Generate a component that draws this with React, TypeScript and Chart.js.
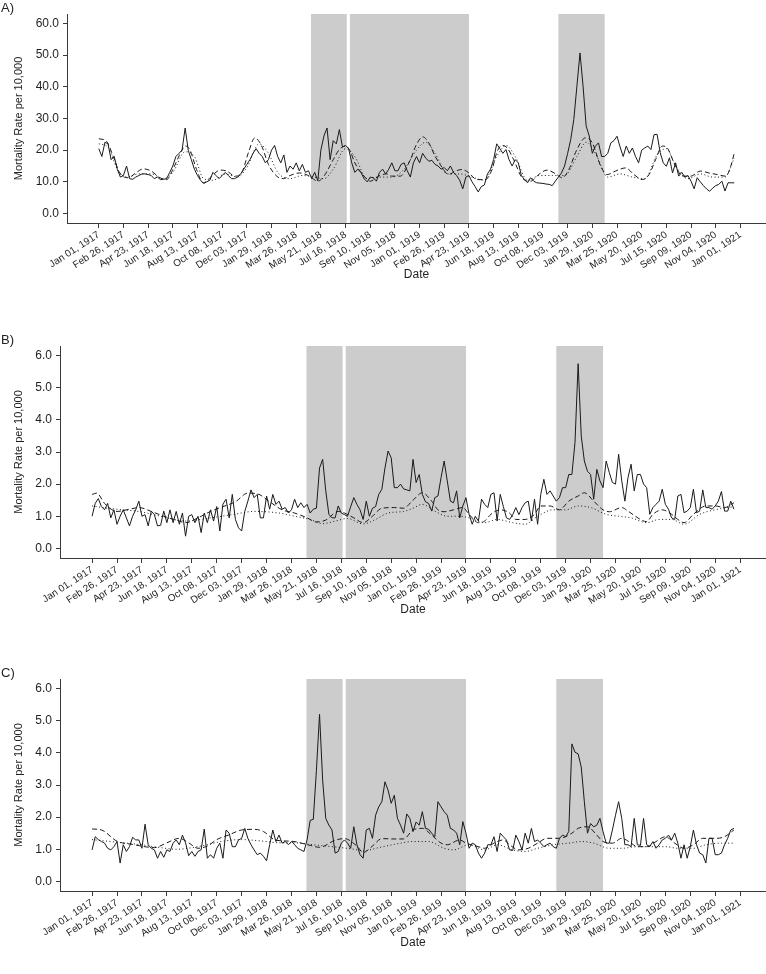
import React, { useEffect, useRef } from "react";
import { Chart, registerables } from "chart.js";

Chart.register(...registerables);

const FONT = "'Liberation Sans', Arial, Helvetica, sans-serif";
const TEXT = "#1f1f1f";
const AXIS = "#3a3a3a";

// x tick labels, one every 8 weeks (week index 0, 8, 16, ...)
const dateLabels = [
  "Jan 01, 1917", "Feb 26, 1917", "Apr 23, 1917", "Jun 18, 1917", "Aug 13, 1917",
  "Oct 08, 1917", "Dec 03, 1917", "Jan 29, 1918", "Mar 26, 1918", "May 21, 1918",
  "Jul 16, 1918", "Sep 10, 1918", "Nov 05, 1918", "Jan 01, 1919", "Feb 26, 1919",
  "Apr 23, 1919", "Jun 18, 1919", "Aug 13, 1919", "Oct 08, 1919", "Dec 03, 1919",
  "Jan 29, 1920", "Mar 25, 1920", "May 20, 1920", "Jul 15, 1920", "Sep 09, 1920",
  "Nov 04, 1920", "Jan 01, 1921",
];
const tickWeekStep = 8;

// shaded pandemic waves, in weeks since Jan 01, 1917
const shadeRanges: [number, number][] = [[68.8, 80.4], [81.4, 120], [149, 164]];

const aYTicks = [0, 10, 20, 30, 40, 50, 60];
const bcYTicks = [0, 1, 2, 3, 4, 5, 6];

// Panel A: weekly observed mortality (week 0 .. 206)
const aObserved = [
  20.5, 18, 22.5, 22, 17, 18, 14, 11.5, 12, 15,
  11, 10.8, 11.5, 12, 12.5, 12.5, 12.3, 12, 11, 11.5,
  10.7, 10.8, 11, 13, 15, 18, 19, 20, 27, 20,
  17, 14, 12, 10.5, 9.5, 10, 10.5, 13, 12, 11,
  12, 13, 12, 11, 11, 11.5, 12.5, 14, 15.5, 17,
  19, 20.5, 19, 18, 16, 17, 20, 21.5, 18, 16,
  18.5, 13, 15, 14, 16, 13.5, 15.5, 13, 13.5, 11,
  13, 10.3, 20, 24.5, 27, 17, 23, 22, 26.5, 21,
  21.5, 20.5, 16, 13, 14, 13, 11, 10, 11.5, 11.3,
  10.2, 13, 14, 12.5, 14, 16, 13.5, 13.5, 15.5, 16,
  13.5, 11.5, 16, 18, 16, 19, 17.5, 16.5, 16.8, 15.5,
  15, 14, 14.5, 13.5, 15, 13, 12, 10.5, 7.8, 11.5,
  12, 10, 8.5, 6.8, 8.5, 9, 12.5, 14, 17, 22,
  20.5, 19, 20.2, 17, 15, 17, 16, 12, 10.7, 9.7,
  11.3, 10.2, 9.7, 9.6, 9.5, 9.3, 9.2, 8.8, 10.2, 11.5,
  12.8, 15, 19, 23.4, 29.7, 40.2, 50.7, 40.2, 27.6, 24.5,
  19, 21.3, 22.3, 18, 18, 19, 22.3, 23, 24.4, 21,
  18, 21.3, 19, 20.7, 18, 16, 20, 20.7, 21.3, 20.2,
  24.9, 25, 19.2, 16, 14.9, 17.6, 12.8, 16, 11.8, 13,
  11.5, 12, 10.2, 7.8, 11.3, 10, 8.8, 7.8, 7.0, 8,
  8.8, 9.2, 10.2, 7.1, 9.7, 9.7, 9.7,
];
// [week, value]
const aExpected: [number, number][] = [
  [0, 23.6], [2.5, 22.8], [4.7, 18], [6.8, 12.8], [9.5, 11.3], [12, 12.8], [14.4, 14.1], [17, 13.4],
  [19.8, 11.3], [22, 10.7], [24, 13.9], [26.8, 19.7], [28, 21.3], [29.5, 20.2], [31.7, 13.9], [33.9, 9.7],
  [36.6, 11.8], [39.3, 13.7], [41.5, 13.4], [44.2, 11.8], [46.3, 12.8], [48.5, 19.2], [50.6, 23.9],
  [52.8, 21.3], [55, 15.5], [57.7, 11.8], [59.8, 11], [62, 12], [65, 12.8], [68, 12], [71, 10.2],
  [73, 11.8], [76, 17], [78, 20.2], [80, 21.3], [81.5, 19.7], [83, 16], [86, 11.8], [88, 10.2],
  [90.7, 11.8], [93.4, 12.5], [95, 11.8], [97.7, 11.8], [101, 17], [103, 21.8], [105, 24.2], [107, 22.3],
  [109, 18.1], [111, 15], [113.4, 12.3], [115.6, 13.4], [117.8, 13.9], [120, 12.8], [122.6, 10.7],
  [125.3, 10.7], [127.5, 13.9], [129, 19.2], [130.7, 21.5], [132.4, 20.7], [134.5, 17], [137.2, 11.3],
  [140, 10.2], [142.6, 12.3], [145.3, 13.7], [148, 12.6], [150.2, 11.3], [152.4, 13.9], [155, 20.2],
  [157.8, 23.9], [160, 22.3], [162.7, 15], [164.8, 12.3], [167.5, 13.4], [170.8, 14.4], [173.5, 12.3],
  [176.2, 10.7], [178.4, 12.3], [180.5, 17], [182.7, 21.3], [184.3, 20.7], [186.5, 16], [189.2, 11.8],
  [191.9, 11.8], [195, 13.4], [197.8, 12.8], [200.5, 12.3], [203.3, 11.8], [204.9, 15], [206, 19],
];
const aBaseline: [number, number][] = [
  [0, 22], [3, 21], [6, 14], [9, 11.5], [13, 12.5], [17, 12.5], [21, 11], [24, 13], [28, 19.5], [31, 18],
  [34, 11], [37, 10.5], [41, 12.5], [45, 11.5], [48, 14.5], [52, 22], [55, 19], [58, 13], [62, 11],
  [66, 12], [70, 11.5], [73, 11], [76, 14], [80, 20.5], [83, 18], [87, 11], [91, 11.5], [95, 11.5],
  [99, 14], [103, 20], [106, 22.5], [109, 19], [113, 12.5], [117, 12.5], [121, 11.5], [125, 10.5],
  [129, 18], [132, 21.5], [135, 18], [139, 10.5], [143, 12], [147, 12], [151, 12], [155, 18], [158, 22.5],
  [161, 19], [165, 11.5], [169, 12.5], [173, 11.5], [177, 11], [181, 18.5], [184, 20.5], [187, 15],
  [191, 11], [195, 12.5], [199, 11.5], [203, 11.5], [206, 17.5],
];

// Panel B
const bObserved = [
  1.0, 1.4, 1.55, 1.3, 1.2, 1.4, 0.95, 1.2, 0.75, 1.0,
  1.2, 0.95, 0.7, 1.0, 1.2, 1.47, 1.0, 1.05, 0.7, 1.16,
  1.05, 0.7, 0.72, 1.16, 0.8, 1.2, 0.8, 1.15, 0.75, 1.1,
  0.38, 1.0, 1.05, 0.8, 1.0, 0.49, 1.1, 0.8, 1.2, 0.85,
  1.3, 0.54, 1.38, 1.53, 0.95, 1.68, 0.9, 0.64, 0.54, 1.15,
  1.47, 1.82, 1.58, 1.68, 0.95, 0.95, 1.63, 1.22, 1.68, 1.37,
  1.47, 1.22, 1.27, 1.1, 1.2, 1.53, 1.27, 1.42, 1.27, 1.37,
  1.1, 1.22, 1.25, 2.5, 2.77, 1.79, 1.06, 0.95, 0.95, 1.32,
  1.1, 1.05, 1.0, 1.3, 1.58, 1.37, 1.2, 0.9, 1.47, 1.0,
  1.25, 1.3, 1.68, 1.84, 2.5, 3.03, 2.82, 1.89, 1.89, 2.0,
  1.85, 1.82, 1.79, 2.77, 2.05, 2.3, 1.68, 1.45, 1.4, 1.16,
  1.58, 1.63, 2.2, 2.72, 2.1, 1.47, 1.42, 1.79, 0.95, 1.32,
  1.58, 1.06, 0.75, 1.0, 0.85, 1.53, 1.37, 1.27, 1.68, 1.73,
  0.85, 1.68, 1.3, 0.95, 0.9, 1.05, 1.27, 1.05, 1.27, 1.42,
  1.47, 0.85, 1.53, 0.75, 1.68, 2.15, 1.68, 1.79, 1.63, 1.47,
  1.58, 1.89, 1.89, 2.3, 2.3, 3.3, 5.75, 3.5, 2.72, 2.4,
  2.3, 1.53, 2.46, 2.1, 1.89, 2.72, 2.36, 2.05, 2.0, 2.93,
  2.1, 1.47, 2.2, 2.62, 1.79, 2.3, 2.3, 2.0, 1.89, 1.06,
  1.27, 1.37, 1.47, 1.84, 1.37, 1.22, 0.95, 0.9, 1.63, 1.68,
  1.11, 1.16, 1.27, 1.84, 1.11, 1.16, 1.82, 1.27, 1.27, 1.22,
  1.32, 1.47, 1.77, 1.16, 1.16, 1.47, 1.22,
];
const bExpected: [number, number][] = [
  [0, 1.68], [1.5, 1.72], [4, 1.4], [8, 1.15], [12, 1.22], [15, 1.27], [19, 1.15], [23, 1.0], [27, 0.88],
  [30, 0.8], [34, 0.95], [38, 1.15], [42, 1.3], [46, 1.45], [50, 1.72], [53, 1.7], [57, 1.45], [61, 1.2],
  [65, 1.1], [69, 0.95], [72, 0.82], [75, 0.88], [79, 1.15], [81, 1.1], [84, 0.95], [87, 0.8], [90, 1.0],
  [93, 1.25], [97, 1.27], [100, 1.25], [103, 1.5], [106, 1.73], [109, 1.47], [111, 1.2], [113, 1.14],
  [116, 1.2], [119, 1.27], [121, 1.06], [124, 0.8], [126, 0.85], [128, 1.06], [131, 1.2], [134, 1.1],
  [136, 0.9], [139, 0.9], [142, 1.06], [144, 1.32], [147, 1.32], [150, 1.2], [153, 1.47], [156, 1.63],
  [158, 1.73], [161, 1.47], [164, 1.2], [166, 1.14], [170, 1.27], [172, 1.16], [176, 0.9], [178, 0.83],
  [180, 1.06], [183, 1.2], [186, 1.06], [188, 0.9], [190, 0.8], [193, 1.06], [197, 1.32], [200, 1.32],
  [203, 1.27], [206, 1.42],
];
const bBaseline: [number, number][] = [
  [0, 1.32], [5, 1.25], [10, 1.2], [15, 1.15], [22, 1.0], [30, 0.85], [38, 0.95], [45, 1.05], [52, 1.15],
  [60, 1.1], [65, 1.0], [70, 0.9], [74, 0.77], [78, 0.85], [82, 0.93], [87, 0.76], [91, 0.9], [95, 1.1],
  [100, 1.15], [103, 1.25], [106, 1.37], [110, 1.16], [114, 1.0], [118, 1.0], [121, 0.95], [126, 0.8],
  [130, 0.9], [135, 0.8], [139, 0.75], [143, 1.0], [148, 1.2], [152, 1.2], [156, 1.32], [160, 1.27],
  [165, 1.06], [169, 1.0], [173, 0.95], [178, 0.8], [182, 0.9], [186, 0.9], [190, 0.75], [195, 1.06],
  [200, 1.2], [206, 1.3],
];

// Panel C
const cObserved = [
  0.98, 1.39, 1.3, 1.24, 1.19, 1.03, 0.98, 1.08, 1.24, 0.57,
  1.14, 0.93, 1.08, 1.37, 1.29, 1.29, 1.03, 1.78, 1.14, 1.03,
  0.98, 0.72, 0.93, 0.75, 0.98, 0.93, 1.19, 1.29, 1.14, 1.44,
  1.2, 0.8, 0.93, 0.78, 0.93, 0.98, 1.63, 0.72, 0.83, 0.72,
  1.03, 1.19, 0.72, 1.6, 1.5, 1.08, 1.08, 1.29, 1.34, 1.65,
  1.34, 1.14, 0.98, 0.83, 0.88, 0.78, 0.64, 1.14, 1.6, 1.24,
  1.44, 1.19, 1.24, 1.14, 1.24, 1.14, 1.03, 0.98, 0.93, 1.29,
  1.9, 1.93, 3.46, 5.2, 3.15, 1.96, 1.75, 1.6, 0.88, 0.93,
  1.19, 1.29, 1.19, 1.03, 1.7, 1.14, 0.83, 0.72, 1.6, 1.65,
  1.34, 2.06, 2.32, 2.48, 3.1, 2.84, 2.43, 2.68, 1.96, 1.75,
  1.5, 2.1, 1.96, 1.55, 1.85, 1.75, 2.17, 1.65, 1.62, 1.5,
  1.39, 2.48, 2.32, 2.17, 2.06, 1.65, 1.6, 1.5, 1.14, 1.86,
  1.5, 1.03, 1.19, 1.14, 0.88, 0.72, 0.88, 1.14, 1.14, 1.39,
  0.93, 1.5, 1.39, 1.29, 0.98, 0.96, 1.44, 1.24, 0.98, 1.5,
  1.19, 1.65, 1.24, 1.29, 1.19, 1.08, 1.14, 1.19, 1.08, 1.03,
  1.34, 1.44, 1.39, 1.55, 4.28, 4.02, 3.97, 3.56, 2.48, 1.5,
  1.8, 1.7, 1.75, 1.96, 1.55, 1.19, 1.19, 1.6, 2.06, 2.48,
  1.96, 1.14, 1.14, 1.08, 1.96, 1.14, 1.12, 1.96, 1.14, 1.08,
  1.24, 1.03, 1.14, 1.29, 1.34, 1.44, 1.29, 1.5, 1.19, 0.72,
  1.14, 0.72, 1.08, 1.6, 1.14, 0.88, 0.83, 0.57, 1.34, 1.34,
  0.83, 0.83, 0.88, 1.14, 1.34, 1.6, 1.65,
];
const cExpected: [number, number][] = [
  [0, 1.63], [3, 1.6], [8, 1.25], [13, 1.15], [20, 1.05], [24, 1.2], [28, 1.34], [31, 1.2], [34, 1.03],
  [37, 1.1], [40, 1.3], [44, 1.45], [48, 1.6], [52, 1.62], [55, 1.55], [59, 1.28], [64, 1.25], [70, 1.12],
  [73, 1.06], [78, 1.28], [81, 1.33], [85, 1.1], [87, 0.9], [90, 1.1], [93, 1.33], [97, 1.32], [100, 1.32],
  [103, 1.6], [106, 1.65], [109, 1.44], [112, 1.19], [114, 1.14], [118, 1.29], [120, 1.19], [124, 1.08],
  [126, 1.03], [129, 1.19], [132, 1.29], [134, 1.14], [137, 0.98], [140, 1.03], [143, 1.19], [146, 1.34],
  [148, 1.34], [150, 1.34], [154, 1.5], [156, 1.65], [159, 1.7], [162, 1.44], [164, 1.24], [167, 1.19],
  [170, 1.34], [173, 1.19], [175, 1.08], [178, 1.08], [181, 1.24], [184, 1.39], [187, 1.19], [190, 1.03],
  [193, 1.14], [196, 1.34], [200, 1.34], [203, 1.39], [206, 1.6],
];
const cBaseline: [number, number][] = [
  [0, 1.3], [5, 1.25], [10, 1.2], [15, 1.15], [22, 1.05], [27, 1.0], [35, 1.1], [42, 1.25], [48, 1.3],
  [55, 1.25], [60, 1.2], [65, 1.2], [70, 1.15], [75, 1.1], [80, 1.05], [84, 1.0], [87, 0.95], [92, 1.05],
  [97, 1.15], [103, 1.24], [108, 1.24], [113, 1.03], [116, 0.98], [121, 1.14], [126, 0.98], [130, 1.14],
  [135, 0.98], [139, 0.93], [143, 1.03], [148, 1.14], [153, 1.19], [157, 1.24], [161, 1.19], [166, 1.03],
  [170, 1.03], [175, 1.08], [180, 1.08], [184, 1.08], [188, 1.03], [193, 1.03], [197, 1.14], [202, 1.19],
  [206, 1.19],
];

const shadePlugin = {
  id: "waveShade",
  beforeDraw(chart: any) {
    const { ctx, chartArea, scales } = chart;
    const xs = scales.x;
    ctx.save();
    ctx.fillStyle = "#cccccc";
    for (const [s, e] of shadeRanges) {
      const x1 = xs.getPixelForValue(s);
      const x2 = xs.getPixelForValue(e);
      ctx.fillRect(x1, chartArea.top, x2 - x1, chartArea.bottom - chartArea.top);
    }
    ctx.restore();
  },
};

type PanelProps = {
  label: string;
  top: number;
  height: number;
  padTop: number;
  yWidth: number;
  yMax: number;
  yTicks: number[];
  observed: number[];
  expected: [number, number][];
  baseline: [number, number][];
};

function Panel(p: PanelProps) {
  const ref = useRef<HTMLCanvasElement>(null);
  useEffect(() => {
    if (!ref.current) return;
    const lineBase = {
      borderColor: "#1a1a1a",
      borderWidth: 1,
      pointRadius: 0,
      fill: false,
    };
    const chart = new Chart(ref.current, {
      type: "line",
      data: {
        datasets: [
          { ...lineBase, data: p.observed.map((v, i) => ({ x: i, y: v })), tension: 0 },
          {
            ...lineBase,
            data: p.expected.map(([x, y]) => ({ x, y })),
            borderDash: [5, 3],
            cubicInterpolationMode: "monotone",
          },
          {
            ...lineBase,
            data: p.baseline.map(([x, y]) => ({ x, y })),
            borderDash: [1, 2.5],
            cubicInterpolationMode: "monotone",
          },
        ],
      } as any,
      options: {
        animation: false,
        responsive: false,
        maintainAspectRatio: false,
        layout: { padding: { top: p.padTop, left: 0, right: 0, bottom: 0 } },
        plugins: { legend: { display: false }, tooltip: { enabled: false }, title: { display: false } },
        scales: {
          x: {
            type: "linear",
            min: -10.3,
            max: 216.3,
            afterBuildTicks: (s: any) => {
              s.ticks = dateLabels.map((_, i) => ({ value: i * tickWeekStep }));
            },
            afterFit: (s: any) => {
              s.height = 62;
            },
            ticks: {
              autoSkip: false,
              maxRotation: 33,
              minRotation: 33,
              padding: 1,
              color: TEXT,
              font: { family: FONT, size: 10 },
              callback: (v: any) => dateLabels[Math.round(Number(v) / tickWeekStep)] ?? "",
            },
            grid: { display: true, drawOnChartArea: false, drawTicks: true, tickLength: 5, color: AXIS, lineWidth: 1 },
            border: { display: true, color: AXIS, width: 1 },
            title: {
              display: true,
              text: "Date",
              color: TEXT,
              font: { family: FONT, size: 12 },
              padding: { top: 0, bottom: 3 },
            },
          },
          y: {
            type: "linear",
            min: -0.05 * p.yMax,
            max: 1.05 * p.yMax,
            afterBuildTicks: (s: any) => {
              s.ticks = p.yTicks.map((v) => ({ value: v }));
            },
            afterFit: (s: any) => {
              s.width = p.yWidth;
            },
            ticks: {
              padding: 4,
              color: TEXT,
              font: { family: FONT, size: 12 },
              callback: (v: any) => Number(v).toFixed(1),
            },
            grid: { display: true, drawOnChartArea: false, drawTicks: true, tickLength: 4, color: AXIS, lineWidth: 1 },
            border: { display: true, color: AXIS, width: 1 },
            title: {
              display: true,
              text: "Mortality Rate per 10,000",
              color: TEXT,
              font: { family: FONT, size: 11 },
              padding: { top: 12.4, bottom: 0 },
            },
          },
        },
      } as any,
      plugins: [shadePlugin],
    });
    return () => chart.destroy();
  }, []);

  return (
    <>
      <canvas
        ref={ref}
        width={766}
        height={p.height}
        style={{ position: "absolute", left: 0, top: p.top, width: 766, height: p.height }}
      />
      <div
        style={{
          position: "absolute",
          left: 1,
          top: p.top + p.padTop - 13,
          fontFamily: FONT,
          fontSize: 13,
          lineHeight: "13px",
          color: TEXT,
        }}
      >
        {p.label}
      </div>
    </>
  );
}

export default function App() {
  return (
    <div style={{ position: "absolute", left: 0, top: 0, width: 766, height: 974, background: "#fff" }}>
      <Panel label="A)" top={0} height={285} padTop={14} yWidth={67} yMax={60} yTicks={aYTicks}
        observed={aObserved} expected={aExpected} baseline={aBaseline} />
      <Panel label="B)" top={330} height={290} padTop={16} yWidth={60} yMax={6} yTicks={bcYTicks}
        observed={bObserved} expected={bExpected} baseline={bBaseline} />
      <Panel label="C)" top={664} height={289} padTop={15} yWidth={60} yMax={6} yTicks={bcYTicks}
        observed={cObserved} expected={cExpected} baseline={cBaseline} />
    </div>
  );
}
